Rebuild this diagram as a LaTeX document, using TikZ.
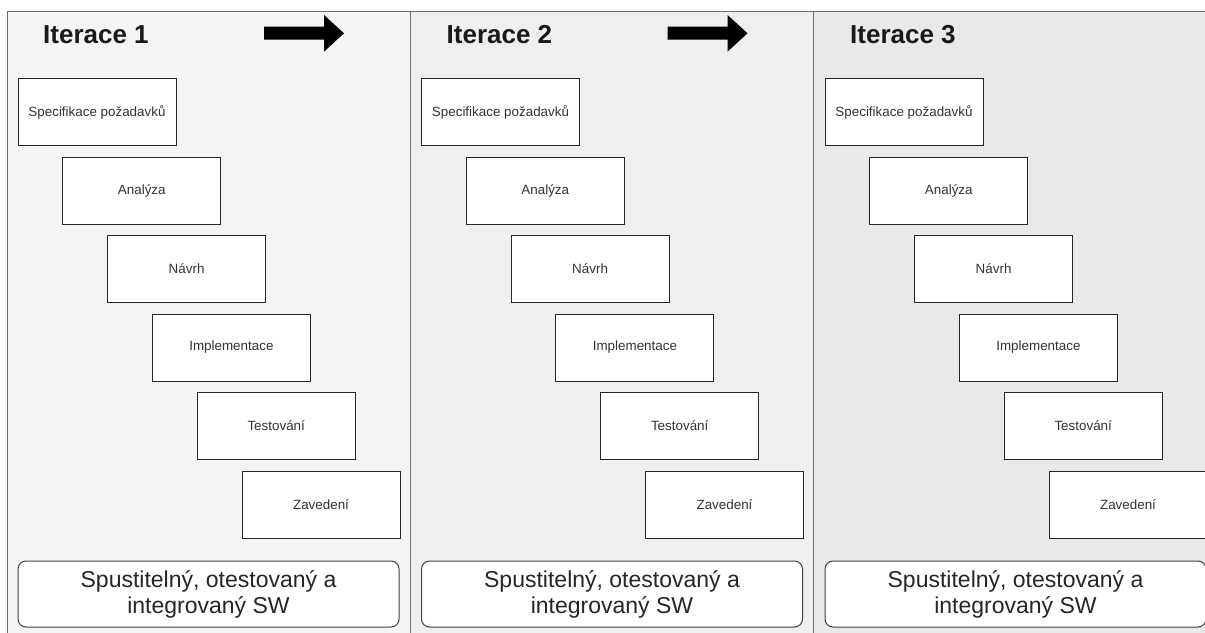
\documentclass[tikz,border=0pt]{standalone}
\usepackage{fontspec}
\setmainfont{Liberation Sans}
\definecolor{pA}{HTML}{F4F4F4}
\definecolor{pB}{HTML}{EFEFEF}
\definecolor{pC}{HTML}{E9E9E9}
\definecolor{bordergray}{HTML}{6E6E6E}
\definecolor{txt}{HTML}{333333}
\begin{document}
\begin{tikzpicture}[x=1pt,y=-1pt,
  panel/.style={draw=bordergray, line width=1pt},
  phase/.style={draw=black!85, fill=white, line width=1pt, minimum width=158pt, minimum height=67pt, inner sep=0pt, font=\fontsize{13.4}{15}\selectfont, text=txt},
  title/.style={font=\fontsize{26}{30}\selectfont\bfseries, text=black!90, anchor=base west, inner sep=0pt},
  result/.style={draw=black!75, fill=white, rounded corners=8pt, line width=1pt, minimum width=381pt, minimum height=66pt, align=center, font=\fontsize{23}{26}\selectfont, text=black!85, inner sep=0pt},
  bigarrow/.style={fill=black}]
\useasboundingbox (0,0) rectangle (1205,632);
\fill[white] (0,0) rectangle (1205,632);
% panels
\foreach \x/\c in {7/pA, 410.5/pB, 813.5/pC}
  \filldraw[panel, fill=\c] (\x,660) -- (\x,11) -- (\x+403,11) -- (\x+403,660);
% contents
\foreach \p/\o in {1/0, 2/403.5, 3/807}{
  \node[title] (t\p) at (43+\o,43) {Iterace \p};
  \node[phase] (a\p) at (97+\o,112) {Specifikace požadavků};
  \node[phase] (b\p) at (141.8+\o,190.5) {Analýza};
  \node[phase] (c\p) at (186.6+\o,269) {Návrh};
  \node[phase] (d\p) at (231.4+\o,347.5) {Implementace};
  \node[phase] (e\p) at (276.2+\o,426) {Testování};
  \node[phase] (f\p) at (321+\o,504.5) {Zavedení};
  \node[result] (r\p) at (208.5+\o,594) {Spustitelný, otestovaný a\\integrovaný SW};
}
% big arrows
\foreach \o in {0, 403.5}
  \fill[bigarrow] (264+\o,26.7) -- (324+\o,26.7) -- (324+\o,15) -- (344+\o,33.3)
     -- (324+\o,51.7) -- (324+\o,39.5) -- (264+\o,39.5) -- cycle;
\end{tikzpicture}
\end{document}
